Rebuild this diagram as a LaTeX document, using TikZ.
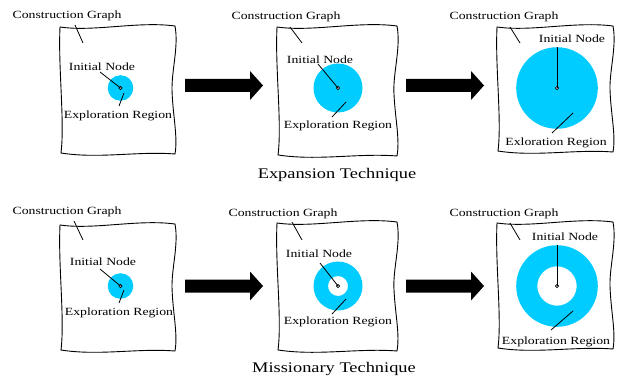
\documentclass[tikz,border=0pt]{standalone}
\usepackage{fontspec}
\setmainfont{Liberation Serif}[FakeStretch=1.25]
\definecolor{regionblue}{RGB}{0,204,255}
\tikzset{
  lbl/.style={font=\fontsize{11}{12}\selectfont, inner sep=0pt},
  captxt/.style={font=\fontsize{14.7}{16}\selectfont, inner sep=0pt},
  leader/.style={line width=0.8pt},
  sheetline/.style={line width=0.9pt},
  dotnode/.style={circle, draw, fill=white, minimum size=3.2pt, inner sep=0pt, line width=0.7pt},
  blockarrow/.style={fill=black}
}
\newcommand{\sheetat}[4]{%
  \draw[sheetline, shift={(#1,#2)}, xscale=#3/118, yscale=#4/128]
    (0,0) .. controls (35,5) and (80,-6) .. (118,-1)
          .. controls (122,20) and (114,45) .. (115,65)
          .. controls (116,90) and (121,110) .. (118,127)
          .. controls (80,124) and (40,132) .. (1,126)
          .. controls (5,95) and (-2,40) .. cycle;}
\newcommand{\blockarr}[3]{% x start, x tip, y centre
  \fill[blockarrow] (#1,#3-6.5) -- (#2-13,#3-6.5) -- (#2-13,#3-14.5) -- (#2,#3)
     -- (#2-13,#3+14.5) -- (#2-13,#3+6.5) -- (#1,#3+6.5) -- cycle;}
\begin{document}
\begin{tikzpicture}[x=1pt,y=-1pt]
\useasboundingbox (0,0) rectangle (617,377);

% ---------------- top row ----------------
\sheetat{60}{27}{115}{128}
\sheetat{277}{27}{120}{130}
\sheetat{497}{27}{116}{126}

% panel 1
\fill[regionblue] (120.5,88) circle (12.8pt);
\node[dotnode] (n1) at (120.5,88) {};
\node[lbl] (cg1) at (67,16) {Construction Graph};
\node[lbl] (in1) at (102,67) {Initial Node};
\node[lbl] (er1) at (118,116) {Exploration Region};
\coordinate (cg1a) at (75,25); \coordinate (cg1b) at (83,43);
\coordinate (in1a) at (100,72);
\coordinate (er1a) at (119,106); \coordinate (er1b) at (124,93);
\draw[leader] (cg1a) -- (cg1b);
\draw[leader] (in1a) -- (n1.center);
\draw[leader] (er1a) -- (er1b);

% panel 2
\fill[regionblue] (338,88) circle (24.5pt);
\node[dotnode] (n2) at (338,88) {};
\node[lbl] (cg2) at (286,17) {Construction Graph};
\node[lbl] (in2) at (320,60) {Initial Node};
\node[lbl] (er2) at (338,126) {Exploration Region};
\coordinate (cg2a) at (290,27); \coordinate (cg2b) at (302,43);
\coordinate (in2a) at (318,64);
\coordinate (er2a) at (332,117); \coordinate (er2b) at (346,102);
\draw[leader] (cg2a) -- (cg2b);
\draw[leader] (in2a) -- (n2.center);
\draw[leader] (er2a) -- (er2b);

% panel 3
\fill[regionblue] (557,88) circle (40.8pt);
\node[dotnode] (n3) at (557,88) {};
\node[lbl] (cg3) at (504,17) {Construction Graph};
\node[lbl] (in3) at (572,39) {Initial Node};
\node[lbl] (er3) at (556,143) {Exloration Region};
\coordinate (cg3a) at (510,27); \coordinate (cg3b) at (520,43);
\coordinate (in3a) at (557,47);
\coordinate (er3a) at (552,133); \coordinate (er3b) at (573,113);
\draw[leader] (cg3a) -- (cg3b);
\draw[leader] (in3a) -- (n3.center);
\draw[leader] (er3a) -- (er3b);

\blockarr{185}{263}{85.5}
\blockarr{406}{484}{85.5}
\node[captxt] (capA) at (337,175) {Expansion Technique};

% ---------------- bottom row ----------------
\sheetat{60}{225}{115}{127}
\sheetat{277}{223}{120}{129}
\sheetat{497}{223}{116}{127}

% panel 4
\fill[regionblue] (120.5,286) circle (12.8pt);
\node[dotnode] (n4) at (120.5,286) {};
\node[lbl] (cg4) at (67,212) {Construction Graph};
\node[lbl] (in4) at (103,262) {Initial Node};
\node[lbl] (er4) at (119,313) {Exploration Region};
\coordinate (cg4a) at (74,221); \coordinate (cg4b) at (83,240);
\coordinate (in4a) at (100,269);
\coordinate (er4a) at (119,303); \coordinate (er4b) at (124,290);
\draw[leader] (cg4a) -- (cg4b);
\draw[leader] (in4a) -- (n4.center);
\draw[leader] (er4a) -- (er4b);

% panel 5
\fill[regionblue, even odd rule] (338,286) circle (24.5pt) (338,286) circle (10pt);
\node[dotnode] (n5) at (338,286) {};
\node[lbl] (cg5) at (283,214) {Construction Graph};
\node[lbl] (in5) at (319,254) {Initial Node};
\node[lbl] (er5) at (338,322) {Exploration Region};
\coordinate (cg5a) at (292,222); \coordinate (cg5b) at (302,240);
\coordinate (in5a) at (320,263);
\coordinate (er5a) at (332,314); \coordinate (er5b) at (346,299);
\draw[leader] (cg5a) -- (cg5b);
\draw[leader] (in5a) -- (n5.center);
\draw[leader] (er5a) -- (er5b);

% panel 6
\fill[regionblue, even odd rule] (557,286) circle (40.8pt) (557,286) circle (19.7pt);
\node[dotnode] (n6) at (557,286) {};
\node[lbl] (cg6) at (504,214) {Construction Graph};
\node[lbl] (in6) at (565,237) {Initial Node};
\node[lbl] (er6) at (556,342) {Exploration Region};
\coordinate (cg6a) at (510,223); \coordinate (cg6b) at (520,240);
\coordinate (in6a) at (557,245);
\coordinate (er6a) at (551,330); \coordinate (er6b) at (573,311);
\draw[leader] (cg6a) -- (cg6b);
\draw[leader] (in6a) -- (n6.center);
\draw[leader] (er6a) -- (er6b);

\blockarr{185}{263}{286}
\blockarr{406}{484}{286}
\node[captxt] (capB) at (334,369) {Missionary Technique};
\end{tikzpicture}
\end{document}
